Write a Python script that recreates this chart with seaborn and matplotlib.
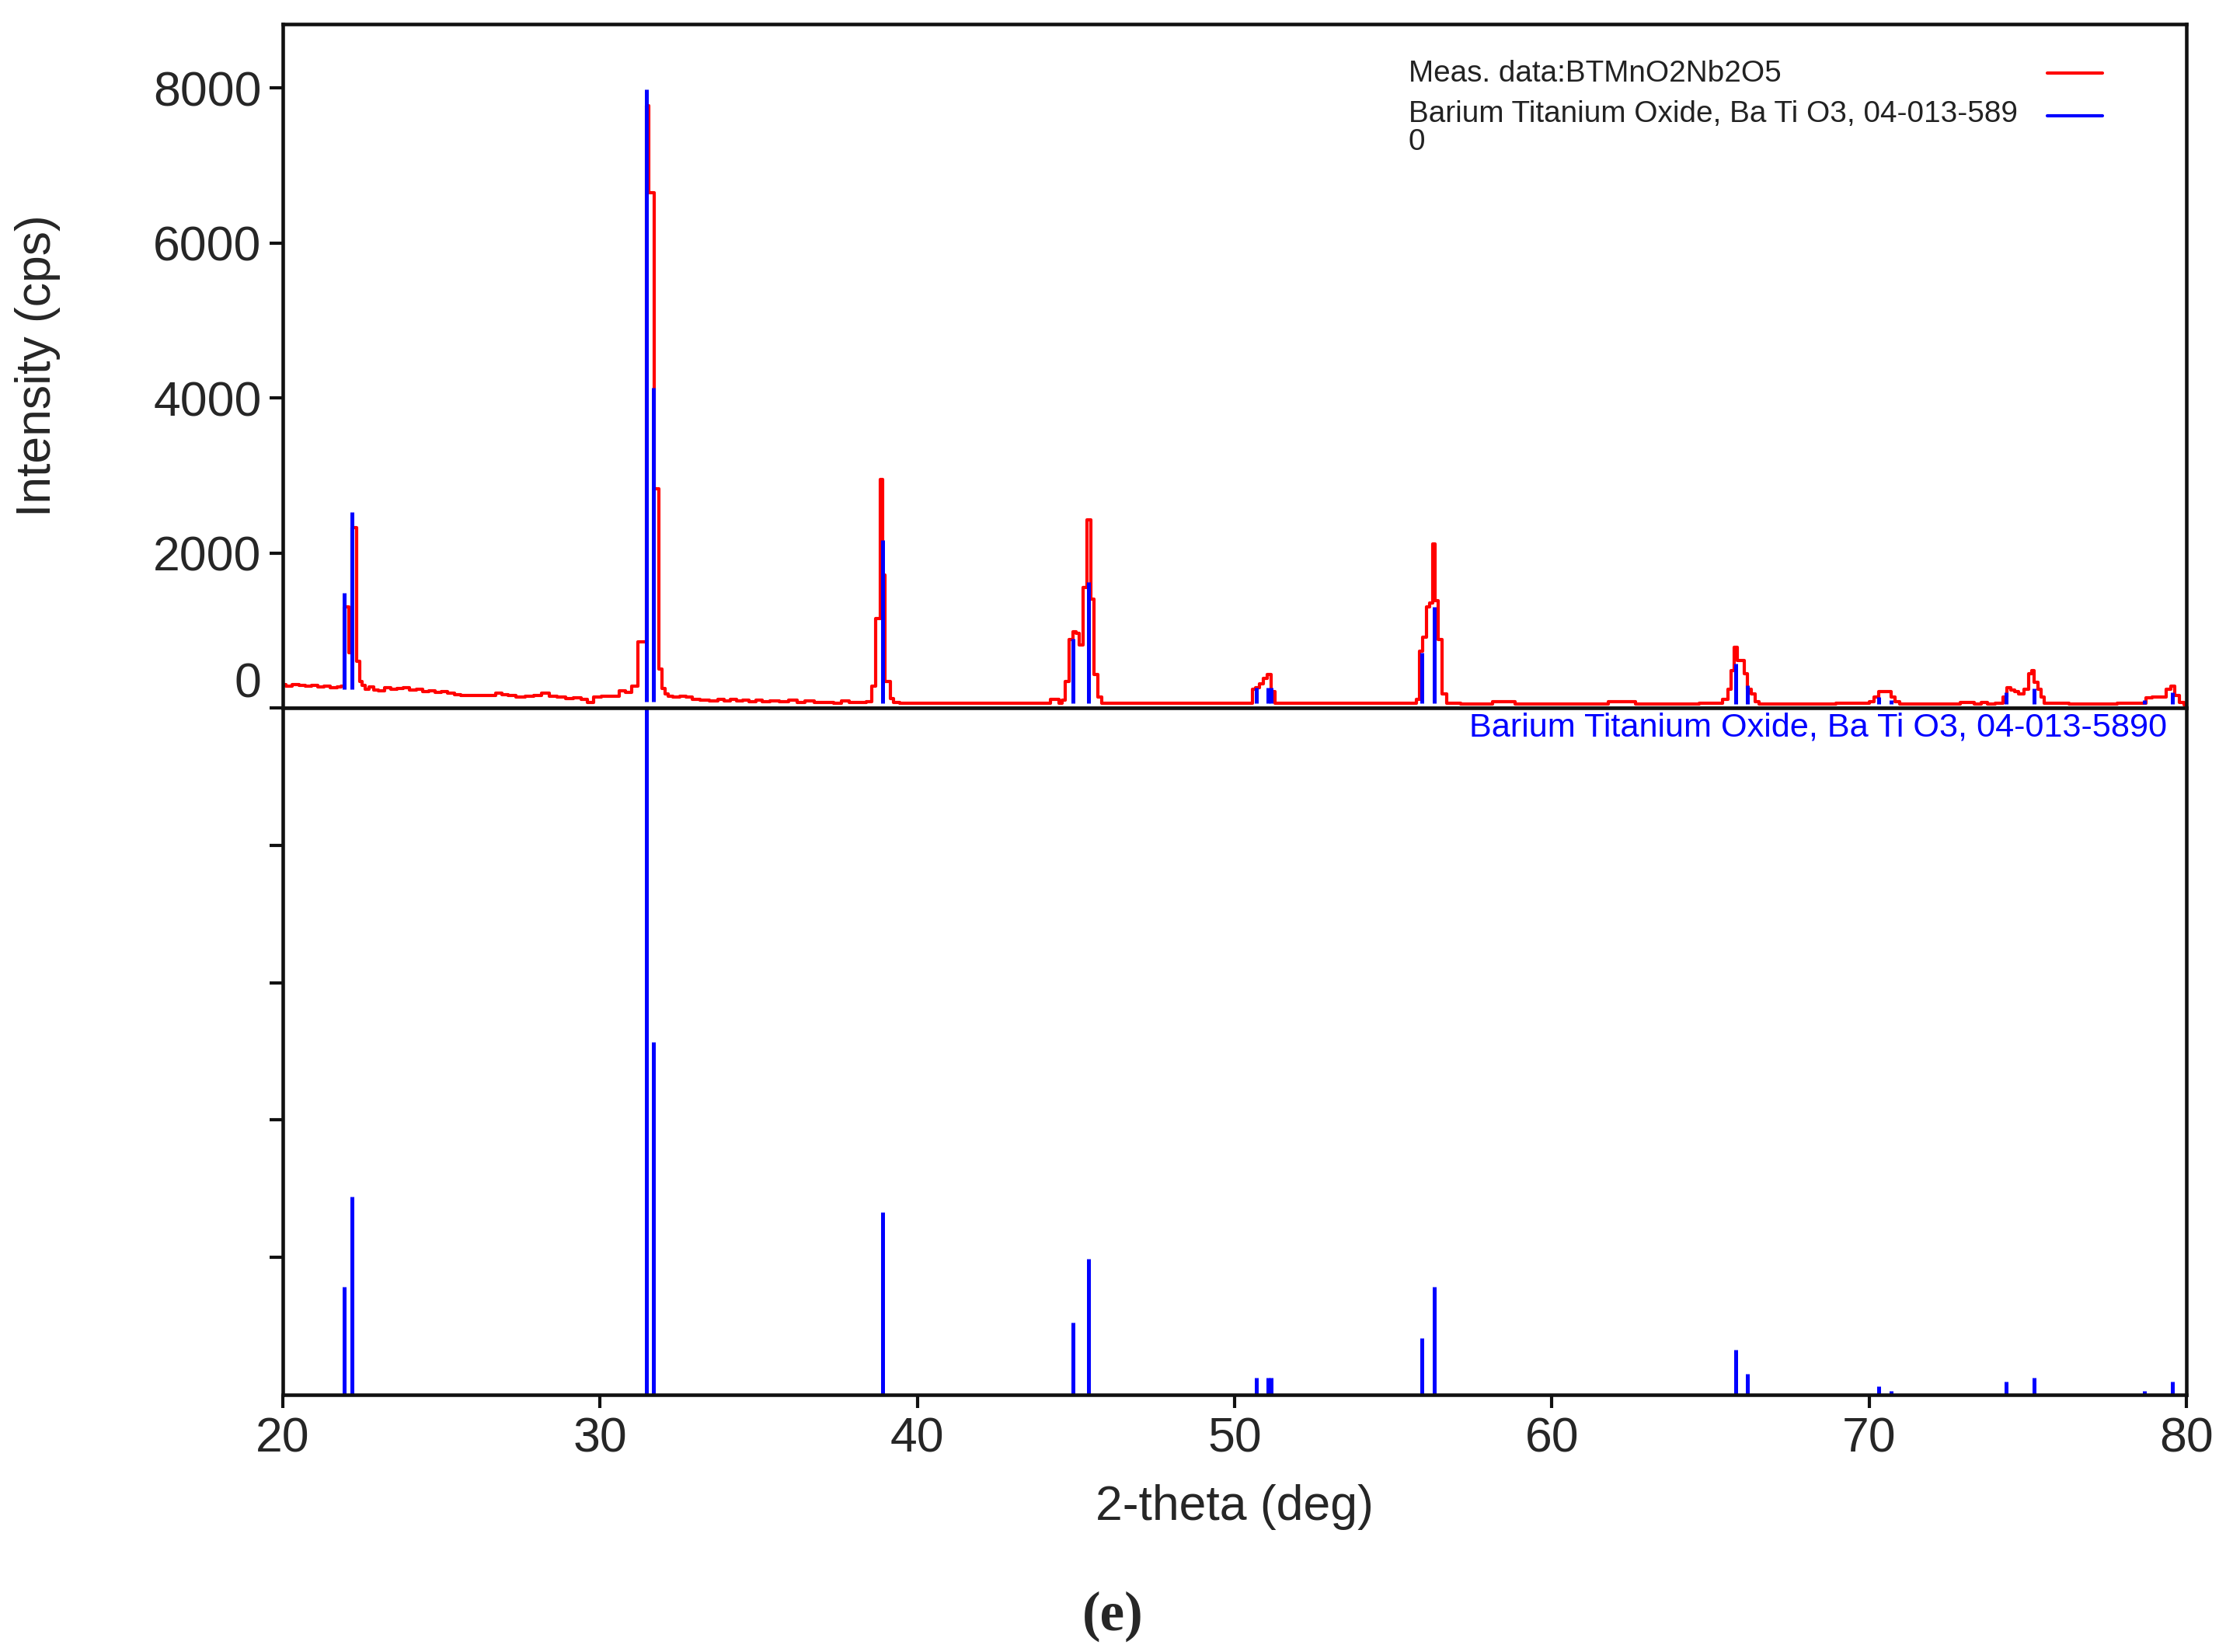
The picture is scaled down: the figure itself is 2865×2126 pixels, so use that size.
import numpy as np
import pandas as pd
import seaborn as sns
import matplotlib
matplotlib.use("Agg")
import matplotlib.pyplot as plt
from matplotlib.lines import Line2D

meas_2theta = [
    20.0, 20.2, 20.4, 20.6, 20.8, 21.0, 21.2, 21.4, 21.6, 21.8,
    21.88, 21.96, 22.04, 22.12, 22.22, 22.30, 22.37, 22.45, 22.55, 22.65,
    22.8, 22.9, 23.1, 23.3, 23.5, 23.7, 23.9, 24.1, 24.3, 24.5,
    24.7, 24.9, 25.1, 25.3, 25.5, 25.7, 26.0, 26.3, 26.6, 26.8,
    27.0, 27.2, 27.5, 27.8, 28.0, 28.3, 28.5, 28.8, 29.0, 29.3,
    29.5, 29.7, 29.9, 30.2, 30.5, 30.7, 30.9, 31.1, 31.3, 31.4,
    31.5, 31.58, 31.66, 31.74, 31.82, 31.9, 31.98, 32.1, 32.2, 32.4,
    32.6, 32.8, 33.0, 33.3, 33.6, 33.8, 34.0, 34.2, 34.4, 34.6,
    34.8, 35.0, 35.2, 35.5, 35.8, 36.1, 36.3, 36.6, 36.9, 37.2,
    37.5, 37.7, 38.0, 38.3, 38.5, 38.62, 38.76, 38.88, 38.94, 39.01,
    39.08, 39.2, 39.3, 39.6, 40.0, 40.5, 41.0, 41.5, 42.0, 42.5,
    43.0, 43.5, 44.0, 44.4, 44.52, 44.62, 44.72, 44.84, 44.96, 45.04,
    45.17, 45.29, 45.41, 45.53, 45.62, 45.74, 45.86, 46.5, 47.5, 48.5,
    49.5, 50.5, 50.6, 50.72, 50.84, 50.96, 51.08, 51.2, 51.33, 52.0,
    53.0, 54.0, 55.0, 55.7, 55.78, 55.86, 55.98, 56.1, 56.2, 56.27,
    56.35, 56.47, 56.6, 56.75, 57.5, 58.76, 58.9, 60.0, 61.0, 62.56,
    62.7, 64.0, 65.29, 65.46, 65.62, 65.7, 65.8, 65.9, 66.03, 66.11,
    66.23, 66.35, 66.48, 66.6, 68.0, 69.9, 70.1, 70.23, 70.39, 70.52,
    70.64, 70.76, 70.88, 71.05, 72.5, 73.25, 73.4, 73.65, 73.8, 74.15,
    74.31, 74.39, 74.52, 74.64, 74.8, 74.96, 75.09, 75.17, 75.25, 75.37,
    75.45, 75.58, 77.0, 78.64, 78.8, 79.05, 79.29, 79.45, 79.55, 79.7,
    79.86, 80.0,
]
meas_cps = [
    300, 280, 300, 290, 280, 290, 270, 285, 265, 270,
    280, 1300, 1300, 710, 2330, 2330, 600, 340, 290, 240,
    270, 230, 220, 260, 240, 250, 260, 230, 240, 210,
    220, 200, 210, 190, 170, 160, 160, 160, 160, 190,
    170, 160, 140, 150, 160, 190, 150, 140, 120, 130,
    110, 70, 140, 150, 150, 220, 200, 280, 850, 850,
    7770, 6650, 6650, 2830, 2830, 500, 250, 180, 150, 140,
    150, 140, 110, 100, 90, 110, 90, 110, 90, 100,
    80, 100, 80, 90, 80, 100, 70, 90, 70, 70,
    60, 90, 70, 70, 80, 280, 1150, 2950, 1710, 340,
    340, 120, 70, 60, 60, 60, 60, 60, 60, 60,
    60, 60, 60, 110, 60, 100, 340, 880, 980, 960,
    810, 1550, 2430, 1400, 430, 140, 60, 60, 60, 60,
    60, 60, 240, 260, 310, 380, 430, 210, 60, 60,
    60, 60, 60, 60, 110, 730, 910, 1300, 1350, 2115,
    1380, 880, 180, 60, 50, 80, 50, 50, 50, 80,
    50, 50, 60, 110, 240, 480, 780, 610, 610, 440,
    240, 180, 80, 50, 50, 60, 80, 140, 210, 210,
    210, 140, 80, 50, 50, 70, 50, 70, 50, 60,
    140, 260, 230, 210, 180, 240, 440, 480, 330, 240,
    140, 60, 50, 60, 130, 140, 140, 240, 280, 160,
    70, 40,
]

# reference card BaTiO3 04-013-5890: line positions and relative intensities
ref_2theta = [21.92, 22.18, 31.45, 31.68, 38.91, 44.90, 45.39, 50.68, 51.04, 51.15,
              55.90, 56.29, 65.80, 66.17, 70.29, 70.70, 74.31, 75.19, 78.68, 79.55]
ref_rel = [0.157, 0.289, 1.000, 0.513, 0.266, 0.105, 0.198, 0.025, 0.025, 0.025,
           0.082, 0.157, 0.066, 0.031, 0.012, 0.006, 0.019, 0.025, 0.006, 0.019]
# background level the sticks start from in the upper panel (cps)
ref_base = [243, 243, 80, 80, 60, 60, 60, 60, 60, 60,
            60, 60, 50, 50, 50, 50, 50, 50, 50, 50]
REF_SCALE = 7900

y_ticks = [0, 2000, 4000, 6000, 8000]
x_ticks = [20, 30, 40, 50, 60, 70, 80]

meas = pd.DataFrame({"two_theta": meas_2theta, "cps": meas_cps})
ref = pd.DataFrame({"two_theta": ref_2theta, "rel": ref_rel, "base": ref_base})
ref["top"] = ref["base"] + ref["rel"] * REF_SCALE

sns.set_style("ticks")
plt.rcParams["font.family"] = ["Liberation Sans", "DejaVu Sans"]

RED = "#ff0000"
BLUE = "#0000ff"

fig = plt.figure(figsize=(2865 / 300, 2126 / 300), dpi=300)
fig.patch.set_facecolor("white")
ax_top = fig.add_axes([0.1271, 0.5715, 0.8551, 0.4139])
ax_bot = fig.add_axes([0.1271, 0.1557, 0.8551, 0.4158])

# upper panel: measured data + reference sticks
sns.lineplot(data=meas, x="two_theta", y="cps", ax=ax_top, color=RED, lw=1.0,
             drawstyle="steps-mid", estimator=None, zorder=2)
ax_top.vlines(ref["two_theta"], ref["base"], ref["top"], colors=BLUE, lw=1.2, zorder=3)

ax_top.set_xlim(20, 80)
ax_top.set_ylim(0, 8822)
ax_top.set_yticks(y_ticks)
ax_top.set_yticklabels([str(t) for t in y_ticks])
ax_top.get_yticklabels()[0].set_va("bottom")
ax_top.set_xticks(x_ticks)
ax_top.tick_params(axis="x", bottom=False, labelbottom=False)
ax_top.set_xlabel("")
ax_top.set_ylabel("Intensity (cps)", fontsize=15)
ax_top.yaxis.set_label_coords(-0.117, 0.5)

# legend, text left and line keys at the right
leg_fs = 9.3
ax_top.text(0.5914, 0.927, "Meas. data:BTMnO2Nb2O5", transform=ax_top.transAxes,
            ha="left", va="center", fontsize=leg_fs, color="#222222")
ax_top.text(0.5914, 0.889, "Barium Titanium Oxide, Ba Ti O3, 04-013-589\n0",
            transform=ax_top.transAxes, ha="left", va="top", fontsize=leg_fs,
            color="#222222", linespacing=1.0)
ax_top.add_line(Line2D([0.927, 0.956], [0.928, 0.928], transform=ax_top.transAxes,
                       color=RED, lw=1.0))
ax_top.add_line(Line2D([0.927, 0.956], [0.866, 0.866], transform=ax_top.transAxes,
                       color=BLUE, lw=1.0))

# lower panel: reference stick pattern
ax_bot.vlines(ref["two_theta"], 0, ref["rel"], colors=BLUE, lw=1.2)
ax_bot.set_xlim(20, 80)
ax_bot.set_ylim(0, 1.0)
ax_bot.set_xticks(x_ticks)
ax_bot.set_xticklabels([str(t) for t in x_ticks])
ax_bot.set_yticks([0.2, 0.4, 0.6, 0.8])
ax_bot.tick_params(axis="y", labelleft=False)
ax_bot.set_xlabel("2-theta (deg)", fontsize=15)
ax_bot.xaxis.set_label_coords(0.5, -0.13)
ax_bot.text(0.990, 0.971, "Barium Titanium Oxide, Ba Ti O3, 04-013-5890",
            transform=ax_bot.transAxes, ha="right", va="center",
            fontsize=10.4, color=BLUE)

for ax in (ax_top, ax_bot):
    for s in ax.spines.values():
        s.set_visible(True)
        s.set_linewidth(1.1)
        s.set_color("#111111")
    ax.tick_params(direction="out", length=4.1, width=1.0, color="#111111",
                   labelsize=15, pad=2.5)
    ax.set_facecolor("white")
    ax.grid(False)

fig.text(0.5, 1 - 2080 / 2126, "(e)", ha="center", va="center",
         fontsize=17, fontweight="bold", family=["Liberation Serif", "DejaVu Serif"])

fig.savefig("out.png", dpi=300, facecolor="white")
